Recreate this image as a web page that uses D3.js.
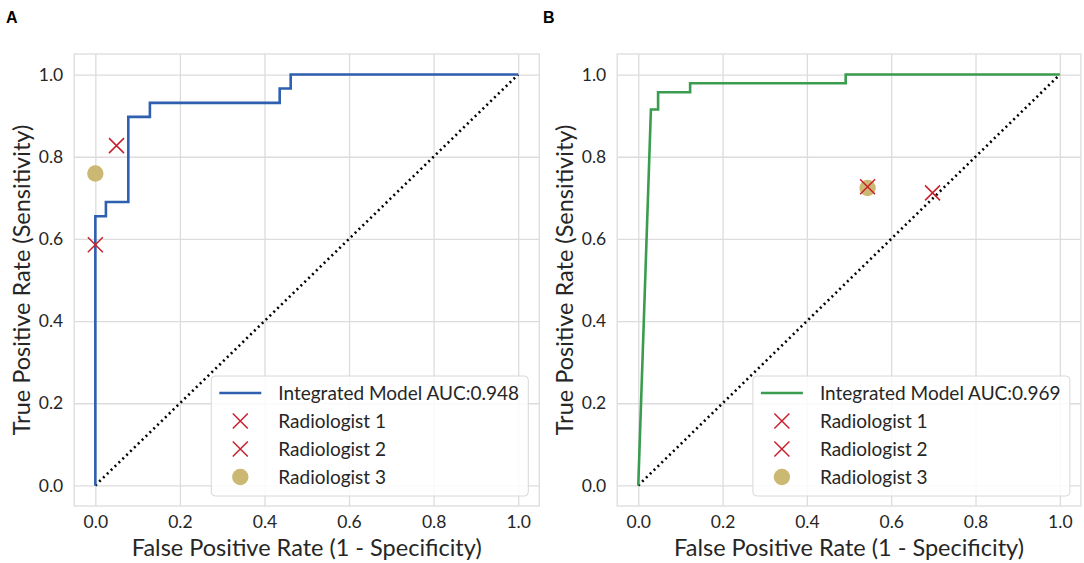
<!DOCTYPE html>
<html>
<head>
<meta charset="utf-8">
<script src="https://cdn.jsdelivr.net/npm/d3@7"></script>
<style>
  body { margin: 0; background: #fff; }
  text { font-family: Lato, "Open Sans", sans-serif; fill: #262626; }
</style>
</head>
<body>
<div id="chart"></div>
<script>
// ROC curve points
var fprA = [0, 0, 0.025, 0.025, 0.078, 0.078, 0.129, 0.129, 0.436, 0.436, 0.462, 0.462, 1.0];
var tprA = [0, 0.655, 0.655, 0.690, 0.690, 0.897, 0.897, 0.931, 0.931, 0.966, 0.966, 1.0, 1.0];
var fprB = [0, 0.030, 0.047, 0.047, 0.123, 0.123, 0.492, 0.492, 1.0];
var tprB = [0, 0.915, 0.915, 0.957, 0.957, 0.979, 0.979, 1.0, 1.0];

// radiologist operating points (1, 2, 3)
var readerFprA = [0.050, 0.0, 0.0];
var readerTprA = [0.827, 0.586, 0.759];
var readerFprB = [0.544, 0.698, 0.544];
var readerTprB = [0.727, 0.712, 0.724];

var readerNames = ["Radiologist 1", "Radiologist 2", "Radiologist 3"];
var aucA = "0.948";
var aucB = "0.969";
var ticks = [0, 0.2, 0.4, 0.6, 0.8, 1.0];

var svgWidth = 1084;
var svgHeight = 563;
var plotTop = 54, plotH = 452;

var svg = d3.select("#chart").append("svg")
    .attr("width", svgWidth)
    .attr("height", svgHeight);

function drawPanel(opts) {
    var x = d3.scaleLinear().domain([-0.05, 1.05]).range([opts.left, opts.left + opts.width]);
    var y = d3.scaleLinear().domain([-0.05, 1.05]).range([plotTop + plotH, plotTop]);
    var g = svg.append("g");

    // frame + grid
    g.append("rect")
        .attr("x", opts.left).attr("y", plotTop)
        .attr("width", opts.width).attr("height", plotH)
        .attr("fill", "none").attr("stroke", "#dcdcdc").attr("stroke-width", 1.3);

    var xAxis = d3.axisBottom(x).tickValues(ticks).tickFormat(d3.format(".1f"))
        .tickSize(-plotH).tickPadding(10);
    var yAxis = d3.axisLeft(y).tickValues(ticks).tickFormat(d3.format(".1f"))
        .tickSize(-opts.width).tickPadding(11);

    var gx = g.append("g").attr("transform", "translate(0," + (plotTop + plotH) + ")").call(xAxis);
    var gy = g.append("g").attr("transform", "translate(" + opts.left + ",0)").call(yAxis);
    [gx, gy].forEach(function(a) {
        a.select(".domain").remove();
        a.selectAll(".tick line").attr("stroke", "#dcdcdc").attr("stroke-width", 1.3);
        a.selectAll(".tick text").style("font-size", "17.5px").attr("fill", "#262626");
    });

    // chance diagonal
    g.append("line")
        .attr("x1", x(0)).attr("y1", y(0))
        .attr("x2", x(1)).attr("y2", y(1))
        .attr("stroke", "#000").attr("stroke-width", 2.6)
        .attr("stroke-dasharray", "2,3.4").attr("stroke-linecap", "butt");

    // ROC curve
    var pts = opts.fpr.map(function(f, i) { return [f, opts.tpr[i]]; });
    g.append("path")
        .datum(pts)
        .attr("d", d3.line().x(function(d) { return x(d[0]); }).y(function(d) { return y(d[1]); }))
        .attr("fill", "none")
        .attr("stroke", opts.color)
        .attr("stroke-width", 2.6);

    // radiologists: 3 is a circle, drawn first; 1 and 2 are crosses
    g.append("circle")
        .attr("cx", x(opts.rFpr[2])).attr("cy", y(opts.rTpr[2]))
        .attr("r", 8.2).attr("fill", "#c8b46a").attr("fill-opacity", 0.95);
    [0, 1].forEach(function(i) {
        drawCross(g, x(opts.rFpr[i]), y(opts.rTpr[i]));
    });

    // legend
    var lx = opts.left + opts.width - 328, ly = 376;
    var lg = g.append("g");
    lg.append("rect")
        .attr("x", lx).attr("y", ly).attr("width", 317).attr("height", 120)
        .attr("rx", 4).attr("fill", "#fff").attr("fill-opacity", 0.85)
        .attr("stroke", "#d8d8d8").attr("stroke-width", 1);
    var rows = ["Integrated Model AUC:" + opts.auc].concat(readerNames);
    rows.forEach(function(t, i) {
        var ry = ly + 17 + i * 28;
        if (i === 0) {
            lg.append("line").attr("x1", lx + 8).attr("x2", lx + 50)
                .attr("y1", ry).attr("y2", ry)
                .attr("stroke", opts.color).attr("stroke-width", 2.6);
        } else if (i < 3) {
            drawCross(lg, lx + 29, ry);
        } else {
            lg.append("circle").attr("cx", lx + 29).attr("cy", ry).attr("r", 8.2)
                .attr("fill", "#c8b46a").attr("fill-opacity", 0.95);
        }
        lg.append("text").attr("x", lx + 67).attr("y", ry).attr("dy", "0.36em")
            .style("font-size", "19px").text(t);
    });

    // axis titles
    g.append("text")
        .attr("x", x(0.5)).attr("y", 556)
        .attr("text-anchor", "middle").style("font-size", "23.5px")
        .text("False Positive Rate (1 - Specificity)");
    g.append("text")
        .attr("transform", "translate(" + (opts.left - 44) + "," + y(0.5) + ") rotate(-90)")
        .attr("text-anchor", "middle").style("font-size", "23.5px")
        .text("True Positive Rate (Sensitivity)");

    // panel letter
    g.append("text")
        .attr("x", opts.letterX).attr("y", 23)
        .style("font-family", "'Liberation Sans', Arial, sans-serif")
        .style("font-size", "16px").style("font-weight", "bold").style("fill", "#000")
        .text(opts.letter);
}

function drawCross(g, cx, cy) {
    var s = 7.5;
    g.append("path")
        .attr("d", "M" + (cx - s) + "," + (cy - s) + "L" + (cx + s) + "," + (cy + s) +
                   "M" + (cx - s) + "," + (cy + s) + "L" + (cx + s) + "," + (cy - s))
        .attr("stroke", "#c8202c").attr("stroke-width", 1.5).attr("fill", "none");
}

drawPanel({left: 74.2, width: 465.1, fpr: fprA, tpr: tprA, rFpr: readerFprA, rTpr: readerTprA,
           color: "#2f5faf", auc: aucA, letter: "A", letterX: 6});
drawPanel({left: 617.2, width: 463.7, fpr: fprB, tpr: tprB, rFpr: readerFprB, rTpr: readerTprB,
           color: "#3a9c4e", auc: aucB, letter: "B", letterX: 543});
</script>
</body>
</html>
